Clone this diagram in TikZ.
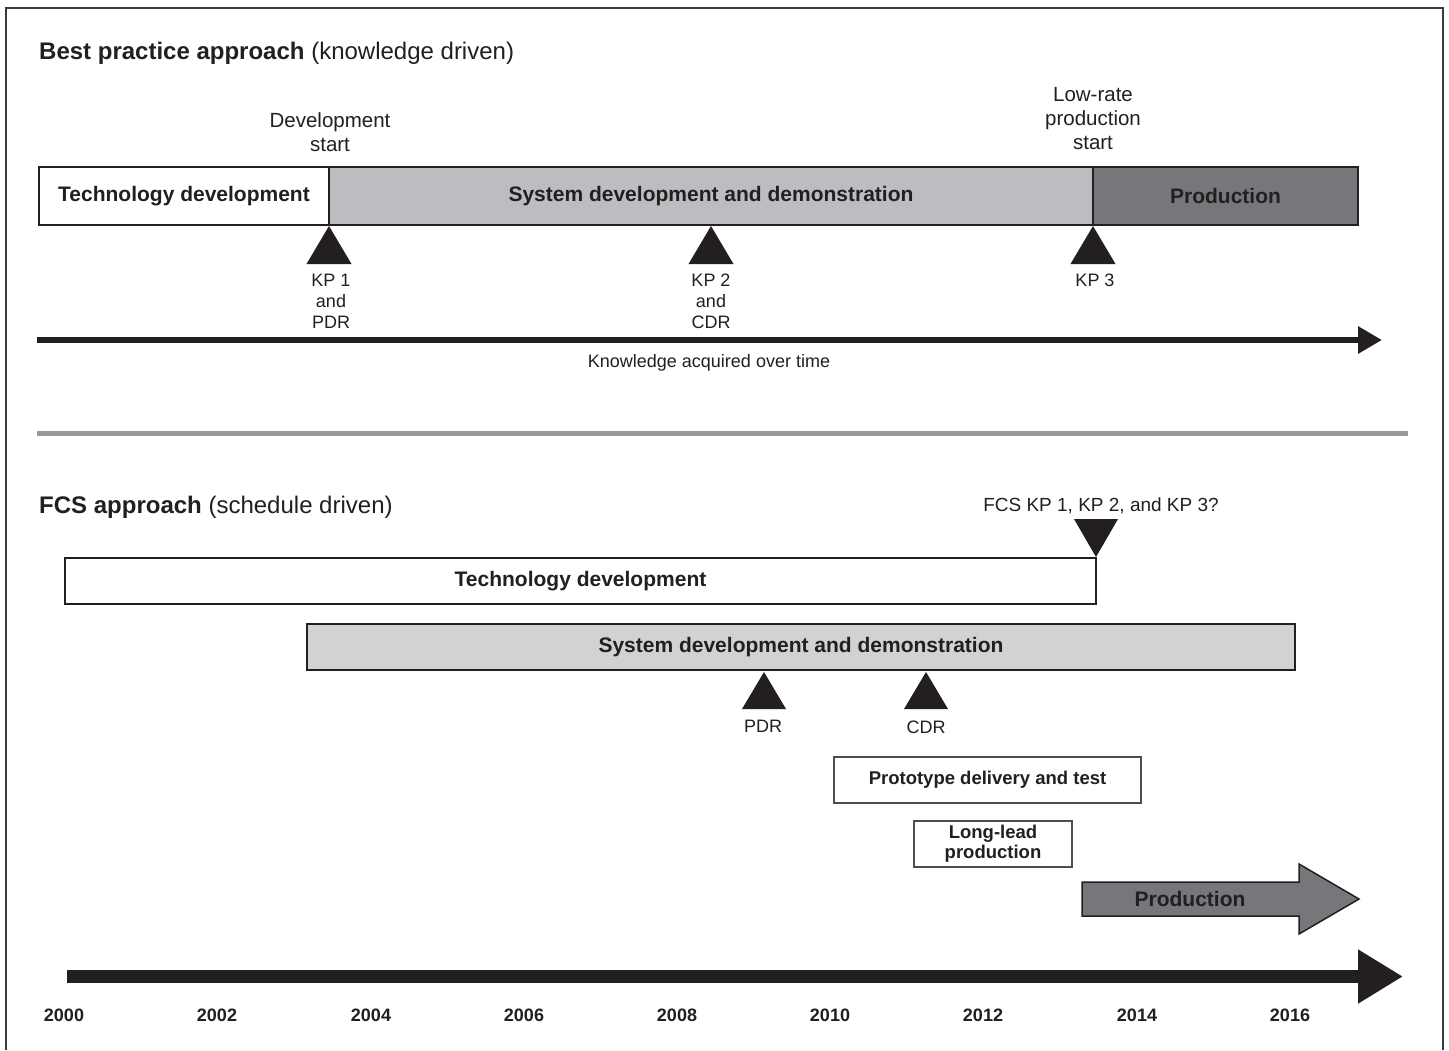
\documentclass[tikz,border=0pt]{standalone}
\usepackage{fontspec}
\setmainfont{Liberation Sans}
\usetikzlibrary{arrows.meta}
\definecolor{ink}{HTML}{231F20}
\definecolor{sddtop}{HTML}{BCBDC0}
\definecolor{prodgray}{HTML}{76777A}
\definecolor{sddlow}{HTML}{D1D2D4}
\definecolor{sepgray}{HTML}{97999B}
\definecolor{framecol}{HTML}{3A3A3A}
\begin{document}
\begin{tikzpicture}[x=1pt,y=-1pt,
  phase/.style={draw=ink, line width=1.5pt, inner sep=0pt, outer sep=0pt, anchor=north west, text=ink,
                font=\fontsize{21}{24}\selectfont\bfseries, align=center},
  subphase/.style={phase, font=\fontsize{18.5}{20}\selectfont\bfseries, draw=ink!80},
  lbl/.style={text=ink, align=center, inner sep=0pt, font=\fontsize{20.5}{24}\selectfont},
  kplbl/.style={text=ink, align=center, inner sep=0pt, font=\fontsize{18}{21}\selectfont},
  yearlbl/.style={text=ink, anchor=base, inner sep=0pt, font=\fontsize{18}{20}\selectfont\bfseries},
  titlelbl/.style={text=ink, anchor=base west, inner sep=0pt, font=\fontsize{24}{27}\selectfont},
  marker/.style={fill=ink}
]
\useasboundingbox (0,0) rectangle (1449,1050);
\fill[white] (0,0) rectangle (1449,1050);
% outer frame
\draw[framecol, line width=1.5pt] (6,1050) -- (6,8) -- (1443,8) -- (1443,1050);

% ---------- Best practice ----------
\node[titlelbl] (t1) at (39,59) {\textbf{Best practice approach} (knowledge driven)};

\node[phase, fill=white, minimum width=290pt, minimum height=58pt] (td1) at (39,167) {Technology development};
\node[phase, fill=sddtop, minimum width=764pt, minimum height=58pt] (sdd1) at (329,167) {System development and demonstration};
\node[phase, fill=prodgray, minimum width=265pt, minimum height=58pt] (pr1) at (1093,167) {Production};

\node[lbl] (devstart) at (330,132) {Development\\start};
\node[lbl] (lrstart) at (1093,119) {Low-rate\\production\\start};

\coordinate (kp1) at (329,226);
\coordinate (kp2) at (711,226);
\coordinate (kp3) at (1093,226);
\foreach \k in {kp1,kp2,kp3}
  \fill[marker] (\k) -- ++(22.5,38) -- ++(-45,0) -- cycle;

\node[kplbl] (kp1l) at (331,301) {KP 1\\and\\PDR};
\node[kplbl] (kp2l) at (711,301) {KP 2\\and\\CDR};
\node[kplbl] (kp3l) at (1095,280) {KP 3};

\coordinate (ta0) at (37,340);
\coordinate (ta1) at (1382,340);
\draw[ink, line width=6pt, -{Triangle[length=24pt,width=26pt]}] (ta0) -- (ta1);
\node[kplbl, anchor=base] (know) at (709,367) {Knowledge acquired over time};

% separator
\coordinate (s0) at (37,433.5);
\coordinate (s1) at (1408,433.5);
\draw[sepgray, line width=5pt] (s0) -- (s1);

% ---------- FCS ----------
\node[titlelbl] (t2) at (39,513) {\textbf{FCS approach} (schedule driven)};

\node[phase, fill=white, minimum width=1031pt, minimum height=46pt] (td2) at (65,558) {Technology development};
\node[phase, fill=sddlow, minimum width=988pt, minimum height=46pt] (sdd2) at (307,624) {System development and demonstration};

\coordinate (fkp) at (1096,557);
\fill[marker] (fkp) -- ++(22,-38) -- ++(-44,0) -- cycle;
\node[kplbl, anchor=base, font=\fontsize{19}{21}\selectfont] (fkpl) at (1101,511) {FCS KP 1, KP 2, and KP 3?};

\coordinate (pdr) at (764,672);
\coordinate (cdr) at (926,672);
\foreach \k in {pdr,cdr}
  \fill[marker] (\k) -- ++(22,37) -- ++(-44,0) -- cycle;
\node[kplbl] (pdrl) at (763,726) {PDR};
\node[kplbl] (cdrl) at (926,727) {CDR};

\node[subphase, fill=white, minimum width=307pt, minimum height=46pt] (proto) at (834,757) {Prototype delivery and test};
\node[subphase, fill=white, minimum width=158pt, minimum height=46pt] (llp) at (914,821) {Long-lead\\production};

% production arrow
\draw[ink, line width=1.5pt, fill=prodgray]
  (1082,882) -- (1299,882) -- (1299,864) -- (1359,899) -- (1299,934) -- (1299,916) -- (1082,916) -- cycle;
\node[text=ink, inner sep=0pt, font=\fontsize{21}{24}\selectfont\bfseries] (pr2) at (1190,899) {Production};

% time axis
\coordinate (ba0) at (67,976.5);
\coordinate (ba1) at (1403,976.5);
\draw[ink, line width=13pt, -{Triangle[length=45pt,width=51pt]}] (ba0) -- (ba1);

\foreach \yr/\xx in {2000/64,2002/217,2004/371,2006/524,2008/677,2010/830,2012/983,2014/1137,2016/1290}
  \node[yearlbl] (y\yr) at (\xx,1021) {\yr};
\end{tikzpicture}
\end{document}
